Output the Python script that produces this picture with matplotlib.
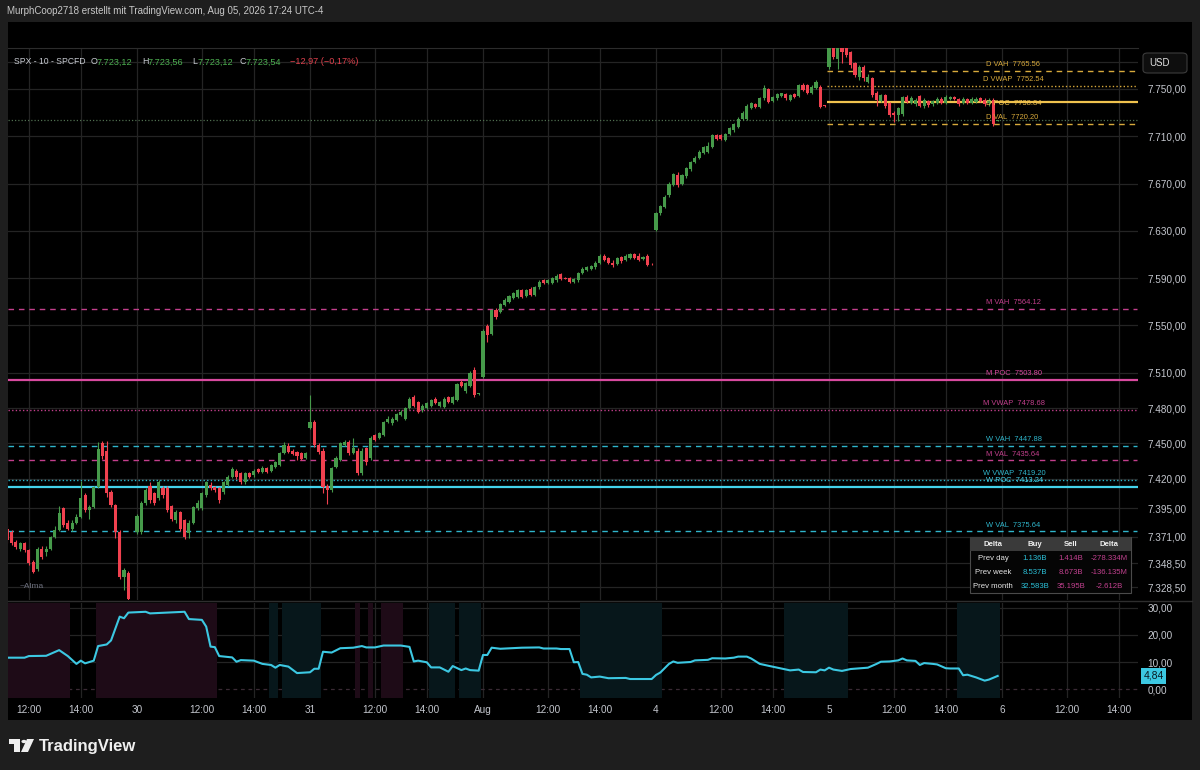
import matplotlib
matplotlib.use("Agg")
import matplotlib.pyplot as plt
from matplotlib.patches import Rectangle, FancyBboxPatch, Polygon, Circle
from matplotlib.lines import Line2D
import matplotlib.transforms as mtransforms

# ---------------- data ----------------
# bar index: 0 = Jul 30 09:30, 40 bars (10 min) per session
bar_index = list(range(-30, -1)) + list(range(0, 200))

opens = [
    # Jul 29
    7378, 7375, 7367, 7361, 7366, 7360, 7350, 7344, 7361, 7358, 7361, 7371, 7377, 7395, 7383,
    7378, 7383, 7388, 7406, 7394, 7396, 7413, 7450, 7444, 7409, 7398, 7375, 7337, 7340,
    # Jul 30
    7375, 7375, 7400, 7414, 7408, 7404, 7412, 7412, 7397, 7385, 7392, 7385, 7374, 7383, 7395,
    7395, 7406, 7415, 7413, 7412, 7409, 7415, 7422, 7427, 7425, 7417, 7425, 7423, 7428, 7426,
    7429, 7427, 7430, 7432, 7442, 7448, 7444, 7443, 7442, 7438,
    # Jul 31
    7463, 7468, 7449, 7444, 7414, 7411, 7430, 7436, 7449, 7451, 7442, 7444, 7425, 7446, 7438,
    7457, 7455, 7457, 7468, 7467, 7470, 7474, 7471, 7480, 7489, 7485, 7478, 7480, 7482, 7488,
    7482, 7481, 7489, 7484, 7487, 7502, 7494, 7499, 7512, 7492,
    # Aug 3
    7506, 7549, 7543, 7563, 7561, 7567, 7570, 7573, 7574, 7580, 7575, 7581, 7576, 7582, 7588,
    7586, 7586, 7588, 7593, 7590, 7590, 7587, 7588, 7594, 7597, 7598, 7599, 7603, 7609, 7607,
    7603, 7602, 7608, 7605, 7607, 7610, 7609, 7606, 7609, 7602,
    # Aug 4
    7631, 7645, 7650, 7660, 7669, 7677, 7670, 7676, 7682, 7688, 7692, 7696, 7697, 7701, 7711,
    7711, 7707, 7712, 7715, 7718, 7725, 7725, 7734, 7737, 7735, 7742, 7750, 7740, 7742, 7744,
    7746, 7741, 7746, 7744, 7753, 7753, 7747, 7751, 7752, 7736,
    # Aug 5
    7769, 7790, 7775, 7790, 7788, 7781, 7772, 7760, 7769, 7756, 7759, 7747, 7740, 7745, 7738,
    7730, 7728, 7729, 7743, 7738, 7737, 7744, 7736, 7740, 7737, 7738, 7741.5, 7738, 7741.5, 7743,
    7741.5, 7738, 7741.5, 7738, 7739, 7742, 7741, 7738, 7741, 7723.12,
]
highs = [
    7381, 7377, 7368, 7367, 7367, 7361, 7351, 7362, 7363, 7363, 7372, 7380, 7397, 7396, 7385,
    7385, 7390, 7418, 7408, 7398, 7414, 7451, 7452, 7452, 7411, 7399, 7377, 7345, 7342,
    7390, 7401, 7412, 7417, 7409, 7419, 7414, 7414, 7398, 7394, 7393, 7386, 7385, 7397, 7402,
    7409, 7418, 7417, 7414, 7413, 7418, 7423, 7430, 7428, 7426, 7426, 7426, 7428, 7429, 7431,
    7430, 7433, 7435, 7443, 7451, 7450, 7445, 7444, 7443, 7443,
    7491, 7470, 7450, 7446, 7416, 7430, 7439, 7451, 7453, 7453, 7455, 7446, 7446, 7447, 7456,
    7458, 7460, 7469, 7473, 7472, 7476, 7478, 7481, 7489, 7491, 7486, 7483, 7485, 7488, 7489,
    7486, 7489, 7490, 7490, 7501, 7504, 7502, 7511, 7515, 7493,
    7547, 7551, 7564, 7565, 7569, 7573, 7576, 7578, 7581, 7581, 7581, 7582, 7583, 7588, 7589,
    7589, 7591, 7593, 7594, 7591, 7591, 7590, 7595, 7599, 7600, 7601, 7604, 7610, 7610, 7608,
    7605, 7608, 7609, 7610, 7611, 7611, 7611, 7609, 7610, 7602.5,
    7646, 7652, 7660, 7671, 7679, 7680, 7678, 7684, 7689, 7693, 7698, 7702, 7705, 7712, 7712,
    7712, 7713, 7718, 7721, 7726, 7731, 7737, 7739, 7738, 7743, 7753, 7751, 7744, 7747, 7747,
    7747, 7746, 7747, 7754, 7755, 7754, 7753, 7758, 7753, 7736.5,
    7792, 7793, 7792, 7792, 7790, 7782, 7773, 7770, 7770, 7763, 7760, 7748, 7746, 7746, 7739,
    7731, 7735, 7744, 7745, 7744, 7742, 7745, 7742, 7741, 7741, 7743, 7743, 7745, 7744, 7744,
    7742, 7743, 7742, 7743, 7743, 7743, 7742, 7742, 7742, 7723.56,
]
lows = [
    7366, 7364, 7361, 7359, 7358, 7347, 7340, 7342, 7352, 7355, 7360, 7370, 7376, 7379, 7377,
    7376, 7382, 7387, 7392, 7386, 7395, 7412, 7437, 7405, 7396, 7370, 7335, 7326, 7316,
    7373, 7373, 7398, 7400, 7398, 7402, 7404, 7392, 7384, 7383, 7376, 7369, 7370, 7382, 7394,
    7394, 7405, 7411, 7409, 7400, 7407, 7414, 7421, 7420, 7416, 7416, 7421, 7422, 7425, 7425,
    7425, 7426, 7429, 7431, 7441, 7442, 7440, 7436, 7436, 7437,
    7462, 7447, 7441, 7408, 7399, 7409, 7429, 7435, 7448, 7440, 7441, 7423, 7423, 7432, 7436,
    7452, 7454, 7456, 7467, 7466, 7469, 7473, 7470, 7479, 7481, 7476, 7477, 7479, 7481, 7483,
    7481, 7480, 7484, 7483, 7486, 7498, 7493, 7498, 7489, 7491,
    7505, 7536, 7542, 7555, 7560, 7566, 7569, 7572, 7573, 7573, 7574, 7575, 7575, 7581, 7585,
    7585, 7585, 7587, 7588, 7589, 7586, 7586, 7587, 7593, 7596, 7597, 7598, 7602, 7604, 7602,
    7599, 7601, 7603, 7604, 7606, 7606, 7604, 7605, 7600, 7601,
    7630, 7643, 7649, 7659, 7668, 7667, 7669, 7675, 7681, 7687, 7691, 7695, 7696, 7700, 7707,
    7707, 7706, 7711, 7714, 7717, 7724, 7724, 7733, 7734, 7734, 7741, 7738, 7739, 7741, 7743,
    7741, 7740, 7742, 7743, 7748, 7746, 7746, 7750, 7734, 7735,
    7767, 7775, 7767, 7772, 7777, 7768, 7760, 7758, 7757, 7755, 7743, 7736, 7739, 7734, 7726,
    7722, 7723, 7727, 7738, 7737, 7736, 7735, 7734, 7735, 7736, 7737, 7737, 7737, 7741, 7741,
    7736, 7737, 7737, 7737, 7738, 7739, 7736, 7736, 7719, 7723.12,
]
closes = [
    7368, 7366, 7362, 7366, 7360, 7349, 7341, 7361, 7354, 7361, 7371, 7377, 7391, 7381, 7378,
    7383, 7388, 7404, 7394, 7396, 7413, 7445, 7439, 7408, 7398, 7375, 7337, 7343, 7318,
    7389, 7400, 7411, 7402, 7400, 7417, 7406, 7394, 7386, 7392, 7378, 7371, 7383, 7396, 7400,
    7408, 7417, 7412, 7411, 7402, 7417, 7422, 7428, 7422, 7417, 7425, 7422, 7427, 7426, 7429,
    7426, 7432, 7434, 7442, 7449, 7443, 7441, 7439, 7437, 7442,
    7468, 7449, 7443, 7413, 7411, 7429, 7438, 7450, 7451, 7442, 7446, 7425, 7444, 7434, 7455,
    7453, 7459, 7468, 7471, 7471, 7475, 7477, 7480, 7488, 7482, 7477, 7482, 7484, 7487, 7484,
    7485, 7488, 7485, 7489, 7500, 7499, 7501, 7510, 7491, 7492.5,
    7545, 7542, 7563, 7557, 7568, 7571, 7575, 7577, 7580, 7574, 7580, 7576, 7582, 7587, 7586,
    7588, 7590, 7592, 7589, 7589.5, 7587, 7589, 7594, 7598, 7599, 7600, 7603, 7609, 7605, 7603,
    7601, 7607, 7604, 7609, 7610, 7607, 7605, 7608, 7601, 7601.5,
    7645, 7651, 7659, 7670, 7678, 7669, 7677, 7683, 7688, 7692, 7697, 7701, 7702, 7711, 7708,
    7708, 7712, 7717, 7720, 7725, 7730, 7736, 7738, 7735, 7742, 7751, 7739, 7743, 7746, 7746.5,
    7742, 7745, 7743, 7753, 7749, 7747, 7752, 7756, 7735, 7735.5,
    7788, 7777, 7788, 7781, 7779, 7770, 7762, 7769, 7759, 7760, 7745, 7741, 7745, 7736, 7728,
    7728, 7734, 7743, 7739, 7742, 7741, 7736, 7741, 7736.5, 7740, 7741.5, 7738, 7743, 7743, 7741.5,
    7737.5, 7741.5, 7738, 7741.5, 7741.5, 7740, 7737.5, 7741, 7720, 7723.54,
]

# volume-profile levels
level_names = ["D VAH", "D VWAP", "D POC", "D VAL",
               "M VAH", "M POC", "M VWAP", "M VAL",
               "W VAH", "W VWAP", "W POC", "W VAL"]
level_values = [7765.56, 7752.54, 7738.84, 7720.20,
                7564.12, 7503.80, 7478.68, 7435.64,
                7447.88, 7419.20, 7413.24, 7375.64]

# indicator pane (line readings: bar index, value)
ind_idx = [-30, -26, -25, -21, -18, -16, -14, -13, -12, -10, -9, -7, -6, -4, -3, -2, 2, 3, 10, 11,
           12, 15, 16, 17, 18, 19, 22, 23, 24, 27, 29, 31, 32, 33, 35, 37, 40, 41, 42, 43,
           45, 47, 50, 52, 53, 55, 57, 61, 63, 64, 65, 67, 68, 70, 72, 73, 75, 76, 77, 79,
           80, 81, 82, 84, 89, 93, 94, 97, 98, 100, 101, 102, 103, 104, 105, 107, 109, 113, 114, 119,
           120, 121, 123, 124, 125, 128, 129, 132, 133, 136, 138, 139, 141, 142, 144, 146, 149, 151, 153, 154,
           157, 158, 159, 160, 161, 163, 165, 168, 169, 171, 172, 174, 176, 177, 178, 180, 181, 182, 184, 185,
           187, 188, 190, 191, 192, 194, 196, 197, 199]
ind_val = [11.6, 11.6, 12.2, 12.3, 14.4, 12.2, 9.3, 10.5, 9.5, 10.5, 15.9, 16.5, 18.0, 26.8, 26.2, 28.3, 28.6, 28.0, 28.5, 28.6,
           25.9, 25.6, 23.1, 15.7, 15.5, 12.2, 11.7, 10.1, 10.7, 10.5, 9.3, 8.9, 7.9, 8.9, 8.3, 5.9, 6.2, 7.5, 7.5, 13.8,
           13.5, 15.1, 15.3, 15.9, 15.4, 15.4, 16.1, 16.1, 15.6, 10.2, 10.5, 9.9, 8.0, 8.0, 6.4, 8.5, 7.0, 7.6, 7.0, 6.8,
           12.6, 12.6, 15.3, 14.9, 15.3, 15.4, 15.0, 15.0, 14.8, 14.8, 9.9, 10.0, 5.6, 5.3, 4.3, 4.6, 4.0, 4.1, 3.7, 3.7,
           5.2, 6.1, 9.3, 10.2, 9.7, 10.0, 10.6, 10.8, 11.4, 11.3, 11.6, 12.0, 12.0, 11.3, 9.3, 8.6, 7.6, 6.9, 7.2, 6.3,
           6.2, 7.2, 6.9, 7.9, 7.2, 6.7, 7.4, 7.8, 7.9, 9.3, 10.1, 10.2, 10.6, 11.3, 10.6, 10.4, 8.9, 9.6, 9.3, 9.1,
           7.7, 7.6, 7.6, 5.1, 5.3, 4.3, 3.1, 3.5, 4.84]
magenta_zones = [(-30, -16), (-9, 18), (51, 51), (54, 54), (57, 61)]
teal_zones = [(31, 32), (34, 42), (68, 73), (75, 79), (103, 121), (150, 164), (190, 199)]

time_ticks = [-25, -13, 0, 15, 27, 40, 55, 67, 80, 95, 107, 120, 135, 147, 160, 175, 187, 200, 215, 227]
time_labels = ["12:00", "14:00", "30", "12:00", "14:00", "31", "12:00", "14:00", "Aug", "12:00",
               "14:00", "4", "12:00", "14:00", "5", "12:00", "14:00", "6", "12:00", "14:00"]
price_ticks = [7750, 7710, 7670, 7630, 7590, 7550, 7510, 7480, 7450, 7420, 7395, 7371, 7348.5, 7328.5]
hidden_price_tick = 7773
ind_ticks = [0, 10, 20, 30]

table_header = ["Delta", "Buy", "Sell", "Delta"]
table_rows = ["Prev day", "Prev week", "Prev month"]
table_buy = ["1.136B", "8.537B", "32.583B"]
table_sell = ["1.414B", "8.673B", "35.195B"]
table_delta = ["-278.334M", "-136.135M", "-2.612B"]

# ---------------- style ----------------
W, H = 1200, 770
BG = "#1e1e1e"
GRID = "#242424"
TXT = "#c4c7ce"
GREEN = "#469a4a"
RED = "#f0414f"
CYAN = "#3cc8e2"
GOLD = "#d8aa3c"
MAG = "#c23f8c"
FONT = "Liberation Sans"
plt.rcParams["font.family"] = [FONT, "DejaVu Sans"]

def fx(x):
    return x / W

def fy(y):
    return 1 - y / H

fig = plt.figure(figsize=(12, 7.7), dpi=100, facecolor=BG)
fig.patches.append(Rectangle((fx(8), fy(720)), (1192 - 8) / W, (720 - 22) / H,
                             transform=fig.transFigure, facecolor="black", edgecolor="none", zorder=-5))

L_PX, R_PX = 8, 1138
x_left = (L_PX - 137) / 4.325
x_right = (R_PX - 137) / 4.325

ax = fig.add_axes([fx(L_PX), fy(600), (R_PX - L_PX) / W, (600 - 48) / H])
axi = fig.add_axes([fx(L_PX), fy(698), (R_PX - L_PX) / W, (698 - 603) / H])

def de_fmt(v):
    s = f"{v:,.2f}"
    return s.replace(",", "X").replace(".", ",").replace("X", ".")

for a in (ax, axi):
    a.set_facecolor("black")
    for s in a.spines.values():
        s.set_visible(False)
    a.set_xlim(x_left, x_right)
    a.set_xticks(time_ticks)
    a.tick_params(axis="both", length=0, colors=TXT, labelsize=7.2)
    a.yaxis.tick_right()
    for t in time_ticks:
        a.axvline(t, color=GRID, lw=0.9, zorder=0)

ax.spines["top"].set_visible(True)
ax.spines["top"].set_color("#2c2c2c")
ax.set_xticklabels([])
axi.set_xticklabels(time_labels)
axi.tick_params(axis="x", pad=5)

# price axis
ax.set_ylim(7317.5, 7784.7)
ax.set_yticks(price_ticks)
ax.set_yticklabels([de_fmt(v) for v in price_ticks])
ax.tick_params(axis="y", pad=7)
for v in price_ticks + [hidden_price_tick]:
    ax.axhline(v, color=GRID, lw=0.9, zorder=0)

# level lines
for name, val in zip(level_names, level_values):
    kind = name.split()[1]
    grp = name[0]
    col = {"D": GOLD, "M": MAG, "W": "#2fb6cc"}[grp]
    start = 159.5 if grp == "D" else x_left
    if kind == "POC":
        col = {"D": "#f0c24e", "M": "#d84a9f", "W": "#43d3ec"}[grp]
        ls, lw = "-", 1.6
    elif kind == "VWAP":
        ls, lw = (0, (1, 1.6)), 1.0
    else:
        ls, lw = (0, (4, 3.5)), 1.0
    ax.hlines(val, start, 231.2 if kind != "POC" else x_right, colors=col, linestyles=ls, lw=lw, zorder=1)
    dy = -1 if kind == "POC" and grp == "D" else 2
    off = mtransforms.offset_copy(ax.transData, fig=fig, x=0, y=dy, units="points")
    ax.text(196.4 if kind != "VWAP" else 195.6, val, f"{name}  {val:.2f}", color=col, fontsize=5.4,
            va="bottom" if not (kind == "POC" and grp == "D") else "center",
            ha="left", transform=off, zorder=5)

# last price dotted line
ax.axhline(closes[-1], color="#4f6e4f", lw=0.9, ls=(0, (1, 1.6)), zorder=1)

# candles
col = [GREEN if c >= o else RED for o, c in zip(opens, closes)]
bottoms = [min(o, c) for o, c in zip(opens, closes)]
heights = [max(abs(c - o), 0.6) for o, c in zip(opens, closes)]
ax.vlines(bar_index, lows, highs, colors=col, lw=0.8, zorder=3)
ax.bar(bar_index, heights, bottom=bottoms, width=0.72, color=col, edgecolor="none", zorder=4)

# indicator pane
axi.set_ylim(-3.33, 31.85)
axi.set_yticks(ind_ticks)
axi.set_yticklabels([de_fmt(v) for v in ind_ticks])
axi.tick_params(axis="y", pad=7)
for v in ind_ticks[1:]:
    axi.axhline(v, color=GRID, lw=0.9, zorder=0)
axi.axhline(0, color="#3a2a34", lw=0.9, ls=(0, (3, 3)), zorder=0)
for a0, a1 in magenta_zones:
    axi.axvspan(a0 - 0.5, a1 + 0.5, color="#1e0b17", lw=0, zorder=0.5)
for a0, a1 in teal_zones:
    axi.axvspan(a0 - 0.5, a1 + 0.5, color="#07171b", lw=0, zorder=0.5)
axi.plot(ind_idx, ind_val, color=CYAN, lw=1.5, zorder=3, solid_joinstyle="round")
lbl_tr = mtransforms.offset_copy(mtransforms.blended_transform_factory(axi.transAxes, axi.transData),
                                 fig=fig, x=4, y=0, units="points")
axi.text(1.0, ind_val[-1], de_fmt(ind_val[-1]), transform=lbl_tr, clip_on=False,
         fontsize=7.5, color="#0a1a22", va="center", ha="left",
         bbox=dict(boxstyle="square,pad=0.25", fc=CYAN, ec="none"))

# pane separator
fig.add_artist(Line2D([fx(8), fx(1192)], [fy(601), fy(601)], transform=fig.transFigure, color="#2e2e2e", lw=1))

# header texts
fig.text(fx(7), fy(11), "MurphCoop2718 erstellt mit TradingView.com, Aug 05, 2026 17:24 UTC-4",
         color="#c8c8c8", fontsize=7, va="center", ha="left")
hy = fy(62)
fig.text(fx(14), hy, "SPX - 10 - SPCFD", color="#c8cbd2", fontsize=6.2, va="center")
ohlc_letters = ["O", "H", "L", "C"]
ohlc_vals = [opens[-1], highs[-1], lows[-1], closes[-1]]
letter_x = [91, 142, 192, 240]
for lx, lt, v in zip(letter_x, ohlc_letters, ohlc_vals):
    fig.text(fx(lx), hy, lt, color="#c8cbd2", fontsize=6.4, va="center")
    fig.text(fx(lx + 6), hy, de_fmt(v), color="#4caf50", fontsize=6.6, va="center")
fig.text(fx(290), hy, "\u221212,97 (\u22120,17%)", color="#e0404c", fontsize=6.6, va="center")

fig.text(fx(20), fy(586), "~Alma", color="#6f7280", fontsize=6, va="center")

# USD box
fig.patches.append(FancyBboxPatch((fx(1143), fy(73)), 44 / W, 20 / H, boxstyle="round,pad=0,rounding_size=0.004",
                                  transform=fig.transFigure, fc="#0e0e0e", ec="#3c3c3c", lw=0.8))
fig.text(fx(1149), fy(63), "USD", color="#e0e0e0", fontsize=7, va="center", ha="left")

# delta table
tx0, tx1, ty0, ty1 = 970, 1131, 537, 593
fig.patches.append(Rectangle((fx(tx0), fy(ty1)), (tx1 - tx0) / W, (ty1 - ty0) / H, transform=fig.transFigure,
                             fc="#050505", ec="#4a4a4a", lw=0.8, zorder=5))
fig.patches.append(Rectangle((fx(tx0), fy(551)), (tx1 - tx0) / W, 14 / H, transform=fig.transFigure,
                             fc="#3a3a3a", ec="none", zorder=5))
col_x = [993, 1035, 1071, 1109]
row_y = [544, 558, 572, 586]
for cx, h in zip(col_x, table_header):
    fig.text(fx(cx), fy(row_y[0]), h, color="#f0f0f0", fontsize=5.6, ha="center", va="center",
             fontweight="bold", zorder=6)
for i, name in enumerate(table_rows):
    yy = fy(row_y[i + 1])
    fig.text(fx(col_x[0]), yy, name, color="#e6e6e6", fontsize=5.6, ha="center", va="center", zorder=6)
    fig.text(fx(col_x[1]), yy, table_buy[i], color="#2bc0d8", fontsize=5.6, ha="center", va="center", zorder=6)
    fig.text(fx(col_x[2]), yy, table_sell[i], color="#c2418f", fontsize=5.6, ha="center", va="center", zorder=6)
    fig.text(fx(col_x[3]), yy, table_delta[i], color="#c2418f", fontsize=5.6, ha="center", va="center", zorder=6)

# TradingView logo
logo_col = "#f0f0f0"
fig.patches.append(Rectangle((fx(9), fy(744)), 11 / W, 5 / H, transform=fig.transFigure, fc=logo_col, ec="none"))
fig.patches.append(Rectangle((fx(14), fy(752)), 6 / W, 13 / H, transform=fig.transFigure, fc=logo_col, ec="none"))
fig.patches.append(Circle((fx(24), fy(741.5)), 2.6 / W, transform=fig.transFigure, fc=logo_col, ec="none"))
fig.patches.append(Polygon([(fx(27), fy(739)), (fx(34), fy(739)), (fx(28), fy(752)), (fx(21), fy(752))],
                           closed=True, transform=fig.transFigure, fc=logo_col, ec="none"))
fig.text(fx(39), fy(746), "TradingView", color=logo_col, fontsize=12, fontweight="bold", va="center", ha="left")

fig.savefig("out.png", dpi=100, facecolor=BG)
